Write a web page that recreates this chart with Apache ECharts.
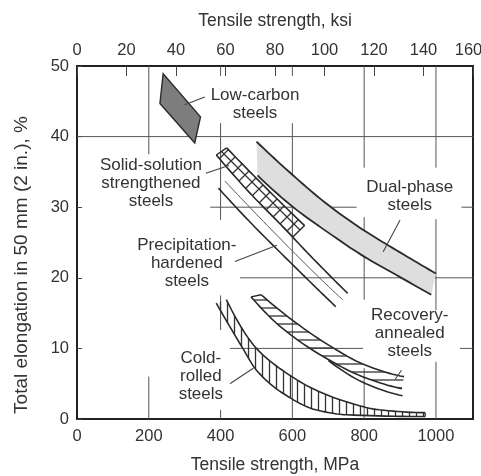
<!DOCTYPE html>
<html><head><meta charset="utf-8">
<script src="https://cdn.jsdelivr.net/npm/echarts@6/dist/echarts.min.js"></script>
<style>html,body{margin:0;padding:0;background:#fff}#c{width:481px;height:476px}</style>
</head><body><div id="c"></div>
<script>
// ---------------- data (MPa, % elongation) ----------------
const mpaTicks = [0, 200, 400, 600, 800, 1000];
const ksiTicks = [0, 20, 40, 60, 80, 100, 120, 140, 160];
const elongTicks = [0, 10, 20, 30, 40, 50];

const lowCarbon = [[240, 48.9], [344, 42.8], [328, 39.1], [231, 44.7]];

const dualUpper = [[500, 39.3], [600, 34.6], [700, 30.3], [800, 26.7], [900, 23.6], [1000, 20.6]];
const dualLower = [[503, 34.5], [600, 30.1], [700, 26.4], [800, 23.0], [900, 20.1], [987, 17.6]];

const solidUpper = [[417, 38.4], [525, 32.8], [634, 27.4]];
const solidLower = [[388, 37.4], [480, 32.1], [602, 25.8]];

const precipA = [[388, 37.4], [480, 32.1], [570, 27.4], [660, 22.6], [754, 17.8]];
const precipB = [[412, 33.7], [500, 29.0], [600, 23.8], [700, 18.8], [740, 16.9]];
const precipC = [[394, 32.7], [480, 28.0], [580, 22.9], [660, 18.9], [721, 15.9]];

const recovUpper = [[513, 17.6], [600, 14.0], [700, 10.5], [805, 7.6], [911, 6.0]];
const recovLower = [[485, 17.3], [564, 13.2], [694, 8.6], [805, 5.8], [905, 4.3]];
const recovThird = [[700, 8.3], [805, 5.0], [907, 3.3]];

const coldUpper = [[416, 16.9], [500, 10.0], [578, 6.7], [665, 4.1], [750, 2.45], [842, 1.3], [970, 0.9]];
const coldLower = [[388, 16.4], [462, 10.0], [500, 6.9], [578, 3.5], [665, 1.3], [750, 0.6], [970, 0.35]];

const labelTexts = [
  'Low-carbon\nsteels',
  'Solid-solution\nstrengthened\nsteels',
  'Precipitation-\nhardened\nsteels',
  'Dual-phase\nsteels',
  'Recovery-\nannealed\nsteels',
  'Cold-\nrolled\nsteels'
];
const xTitle = 'Tensile strength, MPa';
const x2Title = 'Tensile strength, ksi';
const yTitle = 'Total elongation in 50 mm (2 in.), %';

// ---------------- layout / styling ----------------
const MPA_PER_KSI = 6.895;
const KSI_MAX = 160;
const MPA_MAX = KSI_MAX * MPA_PER_KSI;
const FONT = '"Liberation Sans", Arial, Helvetica, sans-serif';
const INK = '#333';
const LINE = '#2a2a2a';
const GRIDC = '#555';

// annotation placement (data units)
const labelAnchors = [[496, 44.6], [206, 33.45], [306, 22.1], [927, 31.6], [927, 12.1], [345, 6.1]];
const leaders = [
  [[300, 44.5], [356, 45.6]],
  [[359, 34.8], [423, 35.9]],
  [[440, 22.3], [557, 24.6]],
  [[900, 28.2], [853, 23.7]],
  [[904, 6.9], [886, 5.6]],
  [[426, 5.0], [491, 7.2]]
];
// drawn grid segments, as in the original (partial lines)
const vGrid = [
  [200, [[50, 37.5], [6, 0]]],
  [400, [[50, 48.6], [41.9, 28.2], [17.5, 12.6], [1.3, 0]]],
  [600, [[50, 48.6], [41.9, 0]]],
  [800, [[50, 35.6], [28.6, 16.9], [7.2, 0]]],
  [1000, [[50, 35.6], [28.3, 15.4], [8.1, 0]]]
];
const hGrid = [
  [40, [[0, MPA_MAX]]],
  [30, [[371, 779], [1071, MPA_MAX]]],
  [20, [[454, MPA_MAX]]],
  [10, [[426, 797], [1067, MPA_MAX]]]
];

// ---------------- helpers ----------------
function mono(px, steps) {
  const n = px.length;
  if (n < 3) return px;
  const h = [], d = [];
  for (let i = 0; i < n - 1; i++) { h[i] = px[i + 1][0] - px[i][0]; d[i] = (px[i + 1][1] - px[i][1]) / h[i]; }
  const m = new Array(n);
  for (let i = 1; i < n - 1; i++) {
    if (d[i - 1] * d[i] <= 0) m[i] = 0;
    else { const w1 = 2 * h[i] + h[i - 1], w2 = h[i] + 2 * h[i - 1]; m[i] = (w1 + w2) / (w1 / d[i - 1] + w2 / d[i]); }
  }
  const endS = (h0, h1, d0, d1) => {
    let s = ((2 * h0 + h1) * d0 - h0 * d1) / (h0 + h1);
    if (Math.sign(s) !== Math.sign(d0)) s = 0;
    else if (Math.sign(d0) !== Math.sign(d1) && Math.abs(s) > Math.abs(3 * d0)) s = 3 * d0;
    return s;
  };
  m[0] = endS(h[0], h[1], d[0], d[1]);
  m[n - 1] = endS(h[n - 2], h[n - 3], d[n - 2], d[n - 3]);
  const out = [px[0]];
  for (let i = 0; i < n - 1; i++) {
    for (let s = 1; s <= steps; s++) {
      const t = s / steps, t2 = t * t, t3 = t2 * t;
      const y = (2 * t3 - 3 * t2 + 1) * px[i][1] + (t3 - 2 * t2 + t) * h[i] * m[i] +
        (-2 * t3 + 3 * t2) * px[i + 1][1] + (t3 - t2) * h[i] * m[i + 1];
      out.push([px[i][0] + t * h[i], y]);
    }
  }
  return out;
}
function curve(api, pts) { return mono(pts.map(p => api.coord(p)), 10); }
function stroke(points, w, c) {
  return { type: 'polyline', shape: { points: points }, style: { stroke: c || LINE, lineWidth: w || 1.6, fill: null } };
}
function makePattern(kind) {
  const c = document.createElement('canvas');
  const s = kind === 'grid' ? 14 : (kind === 'v' ? 7 : 8);
  c.width = s; c.height = s;
  const g = c.getContext('2d');
  g.strokeStyle = '#333'; g.lineWidth = 1.3;
  g.beginPath();
  if (kind === 'v') { g.moveTo(s / 2, 0); g.lineTo(s / 2, s); }
  else if (kind === 'h') { g.moveTo(0, s / 2); g.lineTo(s, s / 2); }
  else { g.moveTo(-1, -1); g.lineTo(s + 1, s + 1); g.moveTo(s + 1, -1); g.lineTo(-1, s + 1); }
  g.stroke();
  return { image: c, repeat: 'repeat' };
}
const patV = makePattern('v'), patH = makePattern('h'), patG = makePattern('grid');

function customSeries(z, draw) {
  return {
    type: 'custom', coordinateSystem: 'cartesian2d', xAxisIndex: 0, yAxisIndex: 0,
    data: [[0, 0]], z: z, silent: true, clip: false,
    renderItem: function (params, api) { return { type: 'group', children: draw(api) }; }
  };
}

const chart = echarts.init(document.getElementById('c'), null, { renderer: 'canvas' });

const series = [];
// grid segments
series.push(customSeries(1, function (api) {
  const ch = [];
  vGrid.forEach(([x, segs]) => segs.forEach(([a, b]) => ch.push(stroke([api.coord([x, a]), api.coord([x, b])], 1, GRIDC))));
  hGrid.forEach(([y, segs]) => segs.forEach(([a, b]) => ch.push(stroke([api.coord([a, y]), api.coord([b, y])], 1, GRIDC))));
  return ch;
}));
// low-carbon
series.push(customSeries(3, function (api) {
  const p = lowCarbon.map(q => api.coord(q));
  return [{ type: 'polygon', shape: { points: p }, style: { fill: '#7d7d7d', stroke: LINE, lineWidth: 1.4 } }];
}));
// dual-phase
series.push(customSeries(3, function (api) {
  const U = curve(api, dualUpper), L = curve(api, dualLower);
  return [
    { type: 'polygon', shape: { points: U.concat(L.slice().reverse()) }, style: { fill: '#dedede', stroke: null } },
    stroke(U, 1.8), stroke(L, 1.8)
  ];
}));
// solid-solution band
series.push(customSeries(3, function (api) {
  const U = curve(api, solidUpper), L = curve(api, solidLower);
  return [
    { type: 'polygon', shape: { points: U.concat(L.slice().reverse()) }, style: { fill: patG, stroke: null } },
    stroke(U, 1.6), stroke([U[0], L[0]], 1.4), stroke([U[U.length - 1], L[L.length - 1]], 1.4)
  ];
}));
// precipitation-hardened lines
series.push(customSeries(3, function (api) {
  return [stroke(curve(api, precipA), 1.6), stroke(curve(api, precipB), 1.0, '#555'), stroke(curve(api, precipC), 1.6)];
}));
// recovery-annealed
series.push(customSeries(3, function (api) {
  const U = curve(api, recovUpper), L = curve(api, recovLower), T = curve(api, recovThird);
  return [
    { type: 'polygon', shape: { points: U.concat(L.slice().reverse()) }, style: { fill: patH, stroke: null } },
    stroke(U, 1.6), stroke(L, 1.6), stroke(T, 1.6), stroke([U[0], L[0]], 1.4)
  ];
}));
// cold-rolled
series.push(customSeries(3, function (api) {
  const U = curve(api, coldUpper), L = curve(api, coldLower);
  return [
    { type: 'polygon', shape: { points: U.concat(L.slice().reverse()) }, style: { fill: patV, stroke: null } },
    stroke(U, 1.6), stroke(L, 1.6), stroke([U[U.length - 1], L[L.length - 1]], 1.3)
  ];
}));
// leaders
series.push(customSeries(4, function (api) {
  return leaders.map(seg => stroke(seg.map(p => api.coord(p)), 1.1, '#444'));
}));
// labels
series.push(customSeries(5, function (api) {
  return labelTexts.map((t, i) => {
    const p = api.coord(labelAnchors[i]);
    return { type: 'text', x: p[0], y: p[1], style: { text: t, fontSize: 17, lineHeight: 18, fontFamily: FONT, fill: INK, align: 'center', verticalAlign: 'middle' } };
  });
}));

const axisLine = { show: true, lineStyle: { color: '#222', width: 2 } };
const option = {
  animation: false,
  backgroundColor: '#fff',
  grid: { left: 77, right: 8, top: 66, bottom: 57, containLabel: false, outerBoundsMode: 'none', show: true, borderColor: '#222', borderWidth: 2, backgroundColor: 'transparent' },
  xAxis: [
    {
      type: 'value', position: 'bottom', min: 0, max: MPA_MAX, interval: 200,
      axisLine: axisLine, axisTick: { show: false }, splitLine: { show: false },
      axisLabel: { color: INK, fontSize: 16.5, fontFamily: FONT, margin: 9, showMaxLabel: true,
        formatter: v => (mpaTicks.indexOf(v) >= 0 ? String(v) : '') },
      name: xTitle, nameLocation: 'middle', nameGap: 37,
      nameTextStyle: { color: INK, fontSize: 17.5, fontFamily: FONT }
    },
    {
      type: 'value', position: 'top', min: 0, max: KSI_MAX, interval: 20,
      axisLine: axisLine, axisTick: { show: true, inside: true, length: 10, lineStyle: { color: '#444', width: 1 } },
      splitLine: { show: false },
      axisLabel: { color: INK, fontSize: 16.5, fontFamily: FONT, margin: 7,
        formatter: v => (ksiTicks.indexOf(v) < 0 ? '' : (v === KSI_MAX ? '{m|' + v + '}' : String(v))),
        rich: { m: { fontSize: 16.5, fontFamily: FONT, color: INK, padding: [0, 9, 0, 0] } } },
      name: x2Title, nameLocation: 'middle', nameGap: 36,
      nameTextStyle: { color: INK, fontSize: 17.5, fontFamily: FONT }
    }
  ],
  yAxis: [{
    type: 'value', min: 0, max: 50, interval: 10,
    axisLine: axisLine, axisTick: { show: true, inside: true, length: 5, lineStyle: { color: '#444', width: 1 } },
    splitLine: { show: false },
    axisLabel: { color: INK, fontSize: 16.5, fontFamily: FONT, margin: 8,
      formatter: v => (elongTicks.indexOf(v) >= 0 ? String(v) : '') }
  }],
  graphic: [{
    type: 'text', x: 22, y: 265, rotation: Math.PI / 2, z: 10,
    style: { text: yTitle, fontSize: 19, fontFamily: FONT, fill: INK, align: 'center', verticalAlign: 'middle' }
  }],
  series: series
};
chart.setOption(option);
</script></body></html>
